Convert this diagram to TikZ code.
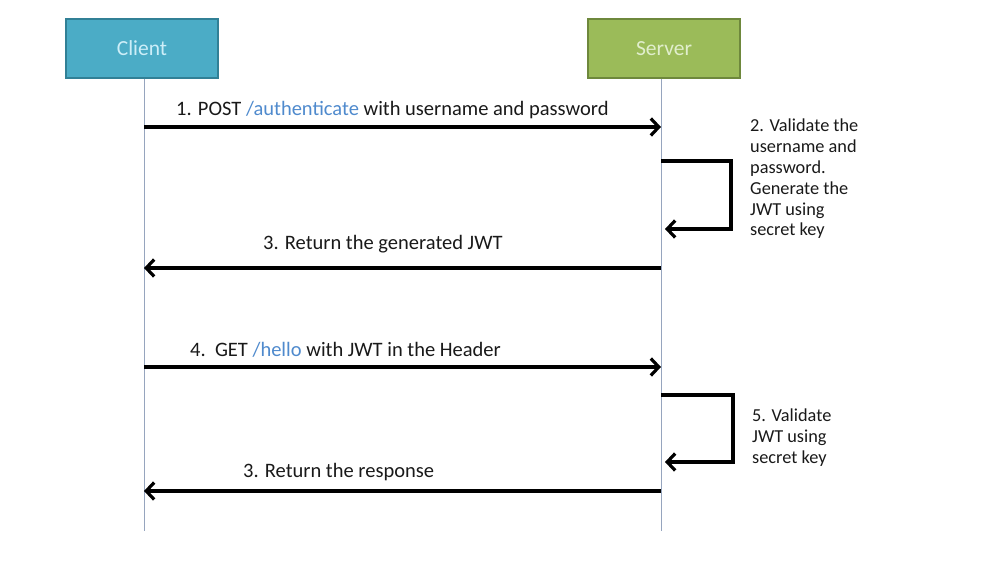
\documentclass[tikz,border=0pt]{standalone}
\usepackage{fontspec}
\setmainfont{Carlito}
\usepackage{xcolor}
\definecolor{clientblue}{RGB}{75,172,198}
\definecolor{clientborder}{RGB}{49,128,150}
\definecolor{clienttext}{RGB}{205,238,248}
\definecolor{servergreen}{RGB}{155,187,89}
\definecolor{serverborder}{RGB}{110,136,60}
\definecolor{servertext}{RGB}{225,238,205}
\definecolor{urlblue}{RGB}{79,138,205}
\definecolor{lifegray}{RGB}{150,165,190}
\definecolor{inkgray}{RGB}{25,25,25}
\usepackage{tikz}
\usetikzlibrary{arrows.meta}
\newcommand{\url}[1]{\textcolor{urlblue}{#1}}
\tikzset{
    actor/.style={draw, line width=1.5pt, rectangle, minimum width=152pt, minimum height=59pt, font=\fontsize{21.5}{24}\selectfont},
    lifeline/.style={lifegray, line width=1pt},
    msg/.style={->, line width=3.2pt},
    msgtext/.style={anchor=base west, inner sep=0pt, text=inkgray, font=\fontsize{20.5}{24}\selectfont},
    note/.style={anchor=north west, inner sep=0pt, align=left, text=inkgray, font=\fontsize{18.3}{20.8}\selectfont},
    >={Straight Barb[length=8pt, width=17pt, line width=3.2pt]}
}
\begin{document}
\begin{tikzpicture}[x=1pt, y=-1pt]
      \useasboundingbox (0,0) rectangle (988,583);

      \newcommand\msgpoints[2]{
        \coordinate (c-#1) at (144,#2);
        \coordinate (s-#1) at (661,#2);
      }

      \node[actor, fill=clientblue, draw=clientborder, text=clienttext] (client) at (142,48.5) {Client};
      \node[actor, fill=servergreen, draw=serverborder, text=servertext] (server) at (664,48.5) {Server};

      \coordinate (client-end) at (144,531);
      \coordinate (server-end) at (661,531);

      \draw[lifeline] (client-end |- client.south) -- (client-end);
      \draw[lifeline] (server-end |- server.south) -- (server-end);

      \msgpoints{auth}{127}
      \msgpoints{jwt}{268}
      \msgpoints{hello}{367}
      \msgpoints{resp}{491}

      % requests and responses
      \draw[msg] (c-auth) -- (s-auth);
      \node[msgtext] (auth-text) at (176,116) {1. POST \url{/authenticate} with username and password};

      \draw[msg] (s-jwt) -- (c-jwt);
      \node[msgtext] (jwt-text) at (263,249) {3. Return the generated JWT};

      \draw[msg] (c-hello) -- (s-hello);
      \node[msgtext] (hello-text) at (190,356) {4.\ \ GET \url{/hello} with JWT in the Header};

      \draw[msg] (s-resp) -- (c-resp);
      \node[msgtext] (resp-text) at (243,477) {3. Return the response};

      % self calls on the server
      \coordinate (validate-out) at (661,161);
      \coordinate (validate-in) at (665,229);
      \draw[msg] (validate-out) -| (731,161) |- (validate-in);
      \node[note] (validate-text) at (750,119) {2. Validate the\\username and\\password.\\Generate the\\JWT using\\secret key};

      \coordinate (check-out) at (661,395);
      \coordinate (check-in) at (665,462);
      \draw[msg] (check-out) -| (733,395) |- (check-in);
      \node[note] (check-text) at (752,409) {5. Validate\\JWT using\\secret key};
\end{tikzpicture}
\end{document}
